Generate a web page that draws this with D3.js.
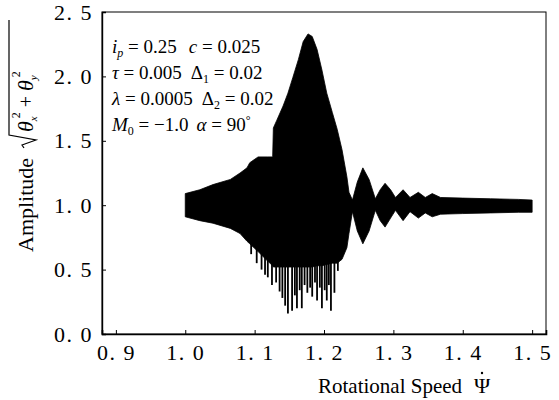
<!DOCTYPE html>
<html>
<head>
<meta charset="utf-8">
<script src="https://cdn.jsdelivr.net/npm/d3@7"></script>
<style>
  body { margin: 0; background: #fff; }
  svg { display: block; }
  svg text { font-family: "Times New Roman", "Liberation Serif", "DejaVu Serif", serif !important; fill: #000; }
</style>
</head>
<body>
<svg id="chart" width="559" height="400"></svg>
<script>
// envelope of the response
const envX     = [1.000, 1.021, 1.040, 1.065, 1.079, 1.089, 1.093, 1.105, 1.118, 1.126, 1.127, 1.132, 1.141, 1.148, 1.155, 1.163, 1.170, 1.177, 1.183, 1.190, 1.197, 1.204, 1.212, 1.219, 1.226, 1.233, 1.236, 1.241, 1.248, 1.256, 1.265, 1.274, 1.281, 1.288, 1.296, 1.303, 1.314, 1.324, 1.336, 1.346, 1.356, 1.368, 1.400, 1.440, 1.480, 1.500];
const envUpper = [1.09, 1.12, 1.16, 1.20, 1.25, 1.29, 1.33, 1.375, 1.375, 1.375, 1.60, 1.66, 1.77, 1.87, 1.99, 2.13, 2.27, 2.33, 2.31, 2.21, 2.05, 1.87, 1.72, 1.59, 1.43, 1.22, 1.10, 1.04, 1.18, 1.29, 1.20, 1.05, 1.12, 1.17, 1.12, 1.06, 1.12, 1.06, 1.10, 1.06, 1.09, 1.06, 1.055, 1.05, 1.045, 1.04];
const envLower = [0.91, 0.88, 0.86, 0.82, 0.78, 0.72, 0.70, 0.64, 0.57, 0.53, 0.52, 0.52, 0.52, 0.52, 0.52, 0.52, 0.52, 0.52, 0.52, 0.53, 0.53, 0.54, 0.55, 0.55, 0.58, 0.67, 0.78, 0.95, 0.80, 0.70, 0.80, 0.96, 0.88, 0.83, 0.90, 0.96, 0.88, 0.95, 0.90, 0.94, 0.91, 0.93, 0.935, 0.94, 0.945, 0.945];

// downward spikes under the main resonance
const spikeX   = [1.095, 1.103, 1.110, 1.115, 1.119, 1.125, 1.131, 1.136, 1.140, 1.144, 1.148, 1.154, 1.158, 1.161, 1.165, 1.168, 1.172, 1.176, 1.180, 1.183, 1.187, 1.190, 1.194, 1.197, 1.201, 1.204, 1.207, 1.210, 1.215, 1.220];
const spikeMin = [0.62, 0.55, 0.50, 0.46, 0.44, 0.38, 0.40, 0.33, 0.28, 0.22, 0.16, 0.18, 0.30, 0.20, 0.34, 0.20, 0.38, 0.32, 0.36, 0.29, 0.40, 0.26, 0.36, 0.20, 0.34, 0.26, 0.38, 0.18, 0.32, 0.49];

const xTicks = [0.9, 1.0, 1.1, 1.2, 1.3, 1.4, 1.5];
const yTicks = [0.0, 0.5, 1.0, 1.5, 2.0, 2.5];

const margin = { left: 102, right: 13, top: 12, bottom: 66 };
const width = 559, height = 400;

const svg = d3.select('#chart');

const x = d3.scaleLinear().domain([0.88, 1.52]).range([margin.left, width - margin.right]);
const y = d3.scaleLinear().domain([0, 2.5]).range([height - margin.bottom, margin.top]);

const fmt = d => d3.format('.1f')(d).replace('.', '. ');

// signal envelope
const env = envX.map((v, i) => ({ x: v, hi: envUpper[i], lo: envLower[i] }));
svg.append('path')
    .datum(env)
    .attr('fill', '#000')
    .attr('stroke', '#000')
    .attr('stroke-width', 0.8)
    .attr('d', d3.area().x(d => x(d.x)).y0(d => y(d.lo)).y1(d => y(d.hi)));

svg.append('g').selectAll('line')
    .data(spikeX.map((v, i) => ({ x: v, min: spikeMin[i] })))
    .enter().append('line')
    .attr('x1', d => x(d.x)).attr('x2', d => x(d.x))
    .attr('y1', y(1.0)).attr('y2', d => y(d.min))
    .attr('stroke', '#000')
    .attr('stroke-width', 1.8);

// frame
svg.append('rect')
    .attr('x', margin.left).attr('y', margin.top)
    .attr('width', width - margin.left - margin.right)
    .attr('height', height - margin.top - margin.bottom)
    .attr('fill', 'none').attr('stroke', '#000').attr('stroke-width', 1);

const xAxis = svg.append('g')
    .attr('transform', `translate(0,${height - margin.bottom})`)
    .call(d3.axisBottom(x).tickValues(xTicks).tickSize(-4).tickPadding(10).tickFormat(fmt));
xAxis.select('.domain').attr('stroke-width', 1.6);

const yAxis = svg.append('g')
    .attr('transform', `translate(${margin.left},0)`)
    .call(d3.axisLeft(y).tickValues(yTicks).tickSize(-4).tickPadding(9).tickFormat(fmt));
yAxis.select('.domain').attr('stroke-width', 1.4);

svg.selectAll('.tick text')
    .style('font-size', '22px')
    .style('letter-spacing', '1.5px');

// x label
svg.append('text')
    .attr('x', 318).attr('y', 393)
    .style('font-size', '21px')
    .text('Rotational Speed');
svg.append('text')
    .attr('x', 474).attr('y', 393)
    .style('font-size', '22px')
    .text('Ψ');
svg.append('circle').attr('cx', 482).attr('cy', 373).attr('r', 1.2).attr('fill', '#000');

// y label, rotated
const yl = svg.append('g').attr('transform', 'translate(33,252) rotate(-90)');
yl.append('text').attr('x', 0).attr('y', 0).style('font-size', '22px').text('Amplitude');
yl.append('path')
    .attr('d', 'M104,-9 L107,-11 L112,3 L117,-24 L232,-24')
    .attr('fill', 'none').attr('stroke', '#000').attr('stroke-width', 1.2);
const sq = yl.append('text').attr('x', 120).attr('y', 0).style('font-size', '22px').style('font-style', 'italic');
sq.append('tspan').text('θ');
sq.append('tspan').attr('dy', 4).style('font-size', '11px').text('x');
sq.append('tspan').attr('dx', -2).attr('dy', -17).style('font-size', '12px').style('font-style', 'normal').text('2');
sq.append('tspan').attr('dx', 5).attr('dy', 13).style('font-size', '20px').style('font-style', 'normal').text('+');
sq.append('tspan').attr('dx', 5).text('θ');
sq.append('tspan').attr('dy', 4).style('font-size', '11px').text('y');
sq.append('tspan').attr('dx', -2).attr('dy', -17).style('font-size', '12px').style('font-style', 'normal').text('2');

// parameter box
const notes = [
    { y: 53, parts: [['i', 'it'], ['p', 'sub'], [' = 0.25', ''], ['c', 'it', 12], [' = 0.025', '']] },
    { y: 79, parts: [['τ', 'it'], [' = 0.005', ''], ['Δ', '', 9], ['1', 'sub'], [' = 0.02', '']] },
    { y: 105, parts: [['λ', 'it'], [' = 0.0005', ''], ['Δ', '', 9], ['2', 'sub'], [' = 0.02', '']] },
    { y: 131, parts: [['M', 'it'], ['0', 'sub'], [' = −1.0', ''], ['α', 'it', 8], [' = 90', ''], ['°', 'sup']] }
];
notes.forEach(n => {
    const t = svg.append('text').attr('x', 112).attr('y', n.y).style('font-size', '19px');
    let shift = 0;
    n.parts.forEach(([s, kind, gap]) => {
        const sp = t.append('tspan').text(s);
        let dy = 0;
        if (kind === 'sub') { dy = 4; sp.style('font-size', '12px'); }
        if (kind === 'sup') { dy = -7; sp.style('font-size', '12px'); }
        if (kind === 'it') sp.style('font-style', 'italic');
        if (kind === 'sub' && s === 'p') sp.style('font-style', 'italic');
        sp.attr('dy', dy - shift);
        shift = dy;
        if (gap) sp.attr('dx', gap);
    });
});
</script>
</body>
</html>
